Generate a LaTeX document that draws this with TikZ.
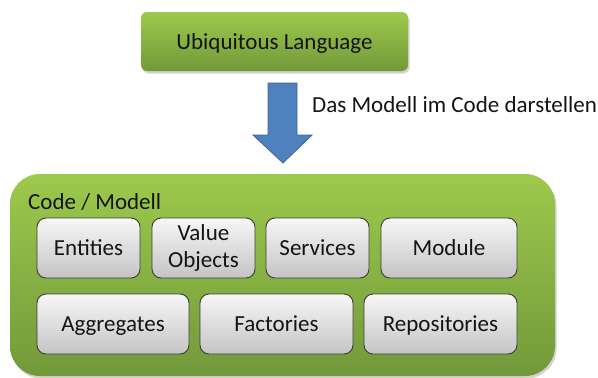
\documentclass[tikz,border=0pt]{standalone}
\usepackage{fontspec}
\setmainfont{Carlito}
\usetikzlibrary{shadows}

\definecolor{greenTop}{HTML}{9DC94C}
\definecolor{greenBot}{HTML}{72993A}
\definecolor{greyTop}{HTML}{F7F7F7}
\definecolor{greyBot}{HTML}{C4C4C4}
\definecolor{greyLine}{HTML}{3C3C3C}
\definecolor{arrowFill}{HTML}{4F81BD}
\definecolor{arrowLine}{HTML}{3A6496}
\definecolor{textDark}{HTML}{141414}

\tikzset{
  txt/.style={font=\fontsize{23}{27}\selectfont, text=textDark},
  greenbox/.style={txt, rectangle, rounded corners=#1, top color=greenTop, bottom color=greenBot,
    draw=none, drop shadow={opacity=0.35, shadow xshift=1.5pt, shadow yshift=-2.5pt}},
  greenbox/.default=6pt,
  elembox/.style={txt, rectangle, rounded corners=9pt, top color=greyTop, bottom color=greyBot,
    draw=greyLine, line width=0.9pt, align=center, inner sep=0pt,
    minimum height=60pt},
  oneline/.style={text height=15pt, text depth=0pt},
}

\begin{document}
\begin{tikzpicture}[x=1pt, y=-1pt]
  \useasboundingbox (0,0) rectangle (598,378);

  % top concept
  \node[greenbox, oneline, minimum width=267pt, minimum height=59pt] (lang) at (274.5,41.5) {Ubiquitous Language};

  % container for the model elements
  \node[greenbox=30pt, minimum width=545pt, minimum height=202pt] (model) at (282.5,275) {};
  \node[txt, anchor=base west, inner sep=0pt] (modeltitle) at (28,209) {Code / Modell};

  % block arrow from the language to the model
  \draw[fill=arrowFill, draw=arrowLine, line width=0.8pt, line join=miter]
    (268,83) -- (297,83) -- (297,135) -- (312,135) -- (283,163) -- (253,135) -- (268,135) -- cycle;
  \node[txt, anchor=base west, inner sep=0pt] (arrowlabel) at (312,112) {Das Modell im Code darstellen};

  % model elements, first row
  \node[elembox, oneline, minimum width=103pt] (entities) at (88.5,248) {Entities};
  \node[elembox, minimum width=103pt] (values) at (203.5,248) {Value\\Objects};
  \node[elembox, oneline, minimum width=103pt] (services) at (317.5,248) {Services};
  \node[elembox, oneline, minimum width=136pt] (module) at (449,248) {Module};

  % model elements, second row
  \node[elembox, oneline, minimum width=152pt] (aggregates) at (113,324) {Aggregates};
  \node[elembox, oneline, minimum width=153pt] (factories) at (276.5,324) {Factories};
  \node[elembox, oneline, minimum width=153pt] (repos) at (440.5,324) {Repositories};
\end{tikzpicture}
\end{document}
